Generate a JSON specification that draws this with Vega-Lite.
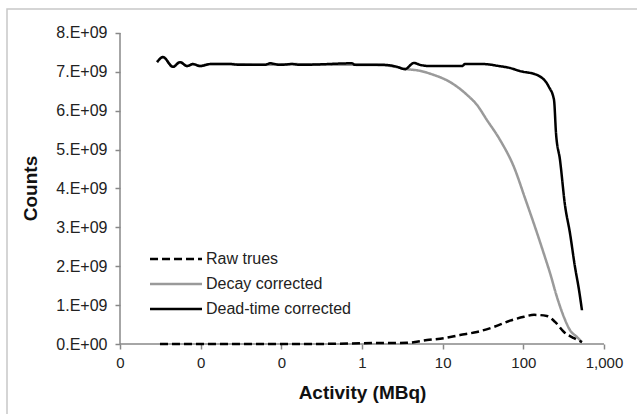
{
  "$schema": "https://vega.github.io/schema/vega-lite/v6.json",
  "autosize": "none",
  "width": 632,
  "height": 407,
  "padding": {"left": 7, "top": 9, "right": 0, "bottom": 0},
  "background": "#ffffff",
  "config": {
    "view": {"stroke": "#c8c8c8", "strokeWidth": 1.5},
    "font": "Liberation Sans",
    "axis": {"grid": false, "domain": false, "labelFont": "Liberation Sans", "titleFont": "Liberation Sans", "labelColor": "#222222", "titleColor": "#111111", "tickColor": "#888888", "tickWidth": 1.5, "tickSize": 5}
  },
  "datasets": {
    "curves": [
      {"a": 0.00288, "c": 7.25e9, "s": "Dead-time corrected"},
      {"a": 0.00341, "c": 7.38e9, "s": "Dead-time corrected"},
      {"a": 0.00454, "c": 7.13e9, "s": "Dead-time corrected"},
      {"a": 0.00555, "c": 7.25e9, "s": "Dead-time corrected"},
      {"a": 0.00678, "c": 7.15e9, "s": "Dead-time corrected"},
      {"a": 0.00804, "c": 7.2e9, "s": "Dead-time corrected"},
      {"a": 0.00982, "c": 7.15e9, "s": "Dead-time corrected"},
      {"a": 0.0131, "c": 7.2e9, "s": "Dead-time corrected"},
      {"a": 0.0231, "c": 7.2e9, "s": "Dead-time corrected"},
      {"a": 0.0308, "c": 7.18e9, "s": "Dead-time corrected"},
      {"a": 0.0627, "c": 7.18e9, "s": "Dead-time corrected"},
      {"a": 0.0722, "c": 7.22e9, "s": "Dead-time corrected"},
      {"a": 0.0962, "c": 7.18e9, "s": "Dead-time corrected"},
      {"a": 0.1355, "c": 7.2e9, "s": "Dead-time corrected"},
      {"a": 0.17, "c": 7.18e9, "s": "Dead-time corrected"},
      {"a": 0.277, "c": 7.19e9, "s": "Dead-time corrected"},
      {"a": 0.752, "c": 7.22e9, "s": "Dead-time corrected"},
      {"a": 0.819, "c": 7.18e9, "s": "Dead-time corrected"},
      {"a": 1.87, "c": 7.18e9, "s": "Dead-time corrected"},
      {"a": 2.72, "c": 7.13e9, "s": "Dead-time corrected"},
      {"a": 3.41, "c": 7.07e9, "s": "Dead-time corrected"},
      {"a": 4.41, "c": 7.23e9, "s": "Dead-time corrected"},
      {"a": 5.24, "c": 7.18e9, "s": "Dead-time corrected"},
      {"a": 6.97, "c": 7.15e9, "s": "Dead-time corrected"},
      {"a": 17.4, "c": 7.15e9, "s": "Dead-time corrected"},
      {"a": 18.9, "c": 7.2e9, "s": "Dead-time corrected"},
      {"a": 32.5, "c": 7.2e9, "s": "Dead-time corrected"},
      {"a": 49.9, "c": 7.15e9, "s": "Dead-time corrected"},
      {"a": 68.4, "c": 7.1e9, "s": "Dead-time corrected"},
      {"a": 91.0, "c": 7.02e9, "s": "Dead-time corrected"},
      {"a": 147.6, "c": 6.92e9, "s": "Dead-time corrected"},
      {"a": 208, "c": 6.61e9, "s": "Dead-time corrected"},
      {"a": 240, "c": 6.28e9, "s": "Dead-time corrected"},
      {"a": 254, "c": 5.43e9, "s": "Dead-time corrected"},
      {"a": 285, "c": 4.73e9, "s": "Dead-time corrected"},
      {"a": 328, "c": 3.58e9, "s": "Dead-time corrected"},
      {"a": 378, "c": 2.86e9, "s": "Dead-time corrected"},
      {"a": 437, "c": 1.98e9, "s": "Dead-time corrected"},
      {"a": 490, "c": 1.39e9, "s": "Dead-time corrected"},
      {"a": 533, "c": 0.87e9, "s": "Dead-time corrected"},

      {"a": 0.00288, "c": 7.25e9, "s": "Decay corrected"},
      {"a": 0.00341, "c": 7.38e9, "s": "Decay corrected"},
      {"a": 0.00454, "c": 7.13e9, "s": "Decay corrected"},
      {"a": 0.00555, "c": 7.25e9, "s": "Decay corrected"},
      {"a": 0.00678, "c": 7.15e9, "s": "Decay corrected"},
      {"a": 0.00804, "c": 7.2e9, "s": "Decay corrected"},
      {"a": 0.00982, "c": 7.15e9, "s": "Decay corrected"},
      {"a": 0.0131, "c": 7.2e9, "s": "Decay corrected"},
      {"a": 0.0231, "c": 7.2e9, "s": "Decay corrected"},
      {"a": 0.0627, "c": 7.18e9, "s": "Decay corrected"},
      {"a": 0.1355, "c": 7.2e9, "s": "Decay corrected"},
      {"a": 0.277, "c": 7.19e9, "s": "Decay corrected"},
      {"a": 0.819, "c": 7.18e9, "s": "Decay corrected"},
      {"a": 1.87, "c": 7.17e9, "s": "Decay corrected"},
      {"a": 2.72, "c": 7.12e9, "s": "Decay corrected"},
      {"a": 3.61, "c": 7.07e9, "s": "Decay corrected"},
      {"a": 4.81, "c": 7.04e9, "s": "Decay corrected"},
      {"a": 7.8, "c": 6.92e9, "s": "Decay corrected"},
      {"a": 12.3, "c": 6.74e9, "s": "Decay corrected"},
      {"a": 20.0, "c": 6.41e9, "s": "Decay corrected"},
      {"a": 26.6, "c": 6.15e9, "s": "Decay corrected"},
      {"a": 35.4, "c": 5.76e9, "s": "Decay corrected"},
      {"a": 51.4, "c": 5.25e9, "s": "Decay corrected"},
      {"a": 76.6, "c": 4.55e9, "s": "Decay corrected"},
      {"a": 105, "c": 3.75e9, "s": "Decay corrected"},
      {"a": 147.6, "c": 2.86e9, "s": "Decay corrected"},
      {"a": 185, "c": 2.24e9, "s": "Decay corrected"},
      {"a": 214, "c": 1.83e9, "s": "Decay corrected"},
      {"a": 261, "c": 1.21e9, "s": "Decay corrected"},
      {"a": 319, "c": 0.69e9, "s": "Decay corrected"},
      {"a": 378, "c": 0.36e9, "s": "Decay corrected"},
      {"a": 462, "c": 0.18e9, "s": "Decay corrected"},
      {"a": 533, "c": 0.05e9, "s": "Decay corrected"},

      {"a": 0.00313, "c": 0.0, "s": "Raw trues"},
      {"a": 0.01, "c": 0.0, "s": "Raw trues"},
      {"a": 0.1, "c": 0.0, "s": "Raw trues"},
      {"a": 0.5, "c": 0.005e9, "s": "Raw trues"},
      {"a": 1.03, "c": 0.02e9, "s": "Raw trues"},
      {"a": 3.61, "c": 0.03e9, "s": "Raw trues"},
      {"a": 6.4, "c": 0.1e9, "s": "Raw trues"},
      {"a": 10.4, "c": 0.15e9, "s": "Raw trues"},
      {"a": 16.4, "c": 0.23e9, "s": "Raw trues"},
      {"a": 26.6, "c": 0.31e9, "s": "Raw trues"},
      {"a": 43.3, "c": 0.44e9, "s": "Raw trues"},
      {"a": 68.4, "c": 0.6e9, "s": "Raw trues"},
      {"a": 102, "c": 0.7e9, "s": "Raw trues"},
      {"a": 136, "c": 0.75e9, "s": "Raw trues"},
      {"a": 196, "c": 0.72e9, "s": "Raw trues"},
      {"a": 247, "c": 0.57e9, "s": "Raw trues"},
      {"a": 319, "c": 0.31e9, "s": "Raw trues"},
      {"a": 425, "c": 0.15e9, "s": "Raw trues"},
      {"a": 533, "c": 0.05e9, "s": "Raw trues"}
    ],
    "axes": [
      {"a": 0.001, "a2": 1000, "c": 0, "c2": 0},
      {"a": 0.001, "a2": 0.001, "c": 0, "c2": 8e9}
    ]
  },
  "layer": [
    {
      "data": {"name": "axes"},
      "mark": {"type": "rule", "color": "#888888", "strokeWidth": 1.5},
      "encoding": {
        "x": {"field": "a", "type": "quantitative", "scale": {"type": "log", "domain": [3.973e-5, 2716], "nice": false}, "axis": {"values": [0.001, 0.01, 0.1, 1, 10, 100, 1000], "labelExpr": "format(datum.value, ',.0f')", "offset": -72, "title": "Activity (MBq)", "titleX": 355, "labelFontSize": 15, "titleFontSize": 19, "titleFontWeight": "bold", "labelPadding": 6, "titlePadding": 13}},
        "x2": {"field": "a2"},
        "y": {"field": "c", "type": "quantitative", "scale": {"domain": [-1.852e9, 8.617e9], "nice": false, "zero": false}, "axis": {"values": [0, 1e9, 2e9, 3e9, 4e9, 5e9, 6e9, 7e9, 8e9], "labelExpr": "datum.value == 0 ? '0.E+00' : format(datum.value / 1e9, 'd') + '.E+09'", "offset": -113, "title": "Counts", "titleY": 179, "labelFontSize": 16, "titleFontSize": 19, "titleFontWeight": "bold", "labelPadding": 8, "titlePadding": 15}},
        "y2": {"field": "c2"}
      }
    },
    {
      "data": {"name": "curves"},
      "transform": [{"filter": "datum.s == 'Decay corrected'"}],
      "mark": {"type": "line", "strokeWidth": 2.5, "interpolate": "monotone"},
      "encoding": {
        "x": {"field": "a", "type": "quantitative"},
        "y": {"field": "c", "type": "quantitative"},
        "color": {"field": "s", "type": "nominal", "scale": {"domain": ["Raw trues", "Decay corrected", "Dead-time corrected"], "range": ["#000000", "#9a9a9a", "#000000"]}, "legend": {"orient": "none", "legendX": 161, "legendY": 242, "title": null, "symbolType": "M-10,0H10", "symbolSize": 27, "symbolStrokeWidth": 2.5, "labelOffset": 22, "labelFontSize": 16, "labelFont": "Liberation Sans", "labelColor": "#222222", "rowPadding": 9}},
        "strokeDash": {"field": "s", "type": "nominal", "scale": {"domain": ["Raw trues", "Decay corrected", "Dead-time corrected"], "range": [[8, 4], [1, 0], [1, 0]]}, "legend": {"orient": "none", "legendX": 161, "legendY": 242, "title": null, "symbolType": "M-10,0H10", "symbolSize": 27, "symbolStrokeWidth": 2.5, "labelOffset": 22, "labelFontSize": 16, "labelFont": "Liberation Sans", "labelColor": "#222222", "rowPadding": 9}}
      }
    },
    {
      "data": {"name": "curves"},
      "transform": [{"filter": "datum.s == 'Dead-time corrected'"}],
      "mark": {"type": "line", "strokeWidth": 2.5, "interpolate": "monotone"},
      "encoding": {
        "x": {"field": "a", "type": "quantitative"},
        "y": {"field": "c", "type": "quantitative"},
        "color": {"field": "s", "type": "nominal"},
        "strokeDash": {"field": "s", "type": "nominal"}
      }
    },
    {
      "data": {"name": "curves"},
      "transform": [{"filter": "datum.s == 'Raw trues'"}],
      "mark": {"type": "line", "strokeWidth": 2.5, "interpolate": "monotone"},
      "encoding": {
        "x": {"field": "a", "type": "quantitative"},
        "y": {"field": "c", "type": "quantitative"},
        "color": {"field": "s", "type": "nominal"},
        "strokeDash": {"field": "s", "type": "nominal"}
      }
    }
  ]
}
